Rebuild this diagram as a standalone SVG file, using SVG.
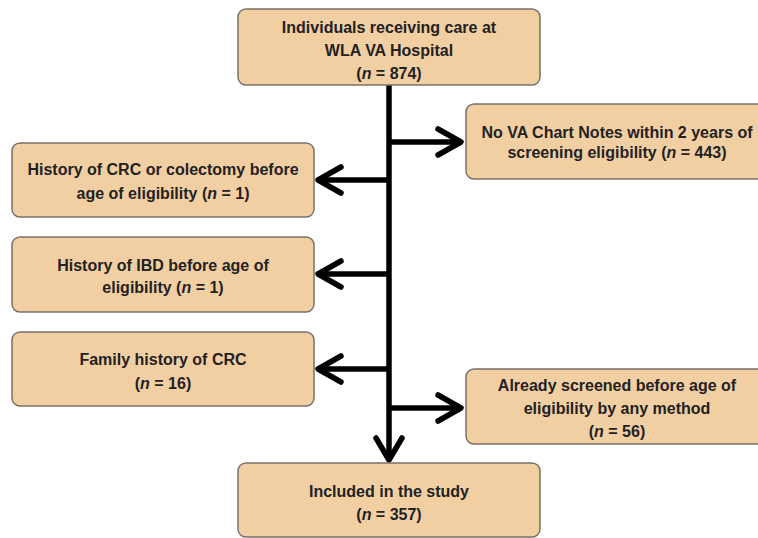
<svg xmlns="http://www.w3.org/2000/svg" width="758" height="538" viewBox="0 0 758 538">
  <defs>
    <style>
      .box { fill: #F2CFA3; stroke: #7A7168; stroke-width: 1.5; }
      .t { font-family: "Liberation Sans", Arial, sans-serif; font-weight: bold; font-size: 16px; fill: #222; text-anchor: middle; }
      .ln { fill: none; stroke: #000; stroke-width: 5.5; stroke-linecap: round; stroke-linejoin: round; }
      .line { fill: none; stroke: #000; stroke-width: 5.5; }
    </style>
  </defs>
  <rect width="758" height="538" fill="#fff"/>

  <g id="connectors">
    <line class="line" x1="389" y1="84" x2="389" y2="458"/>
    <line class="line" x1="389" y1="142" x2="460" y2="142"/>
    <path class="ln" d="M438 129 L461 142 L438 155"/>
    <line class="line" x1="389" y1="180" x2="320" y2="180"/>
    <path class="ln" d="M341 167 L318 180 L341 193"/>
    <line class="line" x1="389" y1="274" x2="320" y2="274"/>
    <path class="ln" d="M341 261 L318 274 L341 287"/>
    <line class="line" x1="389" y1="369" x2="320" y2="369"/>
    <path class="ln" d="M341 356 L318 369 L341 382"/>
    <line class="line" x1="389" y1="408" x2="460" y2="408"/>
    <path class="ln" d="M438 395 L461 408 L438 421"/>
    <path class="ln" d="M376 438 L389 460 L402 438"/>
  </g>

  <g id="n-start">
    <rect class="box" x="238" y="9" width="302" height="76" rx="8"/>
    <text class="t" x="389" y="33">Individuals receiving care at</text>
    <text class="t" x="389" y="56">WLA VA Hospital</text>
    <text class="t" x="389" y="79">(<tspan font-style="italic">n</tspan> = 874)</text>
  </g>

  <g id="n-nochart">
    <rect class="box" x="466" y="104" width="300" height="75" rx="8"/>
    <text class="t" x="617" y="138">No VA Chart Notes within 2 years of</text>
    <text class="t" x="617" y="158">screening eligibility (<tspan font-style="italic">n</tspan> = 443)</text>
  </g>

  <g id="n-crc">
    <rect class="box" x="12" y="143" width="302" height="74" rx="8"/>
    <text class="t" x="163" y="175">History of CRC or colectomy before</text>
    <text class="t" x="163" y="199">age of eligibility (<tspan font-style="italic">n</tspan> = 1)</text>
  </g>

  <g id="n-ibd">
    <rect class="box" x="12" y="237" width="302" height="75" rx="8"/>
    <text class="t" x="163" y="271">History of IBD before age of</text>
    <text class="t" x="163" y="293">eligibility (<tspan font-style="italic">n</tspan> = 1)</text>
  </g>

  <g id="n-family">
    <rect class="box" x="12" y="332" width="302" height="74" rx="8"/>
    <text class="t" x="163" y="365">Family history of CRC</text>
    <text class="t" x="163" y="389">(<tspan font-style="italic">n</tspan> = 16)</text>
  </g>

  <g id="n-screened">
    <rect class="box" x="466" y="369" width="300" height="75" rx="8"/>
    <text class="t" x="617" y="391">Already screened before age of</text>
    <text class="t" x="617" y="414">eligibility by any method</text>
    <text class="t" x="617" y="437">(<tspan font-style="italic">n</tspan> = 56)</text>
  </g>

  <g id="n-included">
    <rect class="box" x="238" y="463" width="302" height="74" rx="8"/>
    <text class="t" x="389" y="497">Included in the study</text>
    <text class="t" x="389" y="520">(<tspan font-style="italic">n</tspan> = 357)</text>
  </g>
</svg>
